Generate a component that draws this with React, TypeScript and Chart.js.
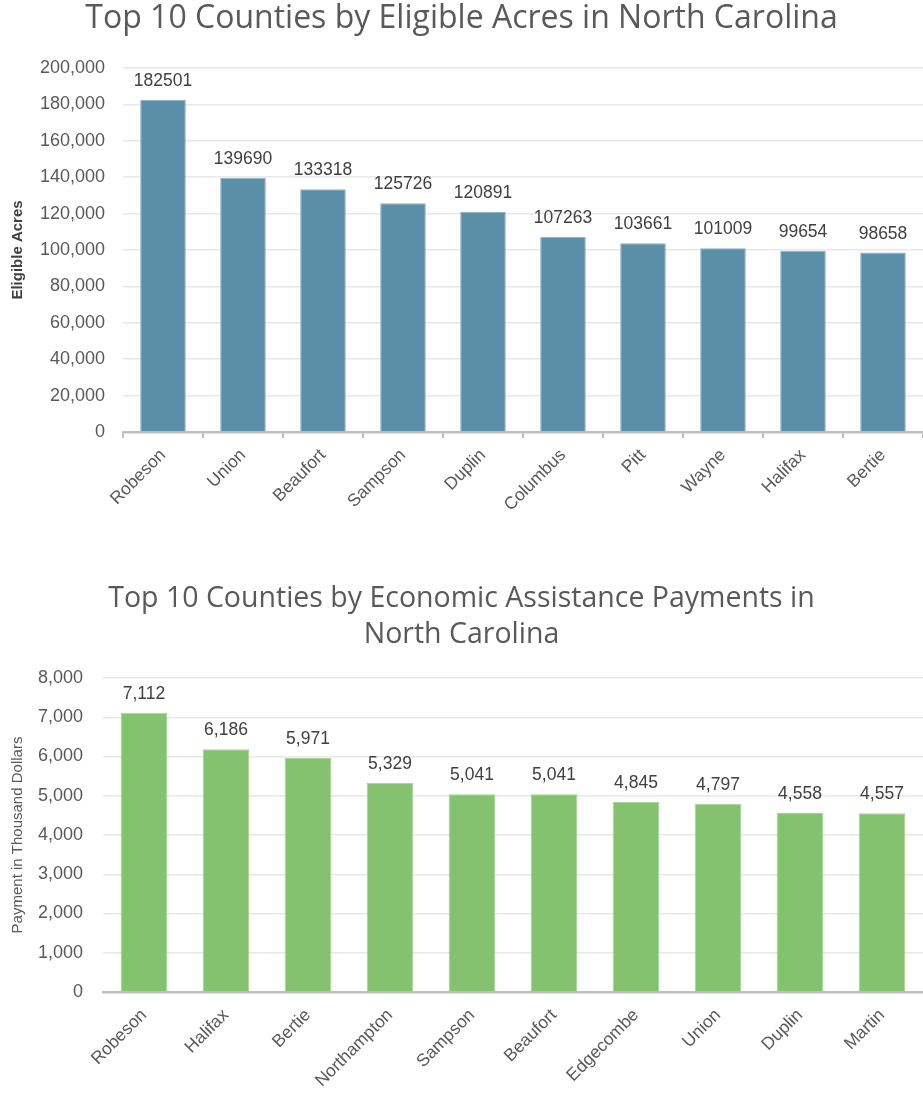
import React, { useEffect, useRef } from "react";
import { Chart, registerables } from "chart.js";

Chart.register(...registerables);

const acresCounties = ["Robeson", "Union", "Beaufort", "Sampson", "Duplin", "Columbus", "Pitt", "Wayne", "Halifax", "Bertie"];
const acresValues = [182501, 139690, 133318, 125726, 120891, 107263, 103661, 101009, 99654, 98658];

const paymentCounties = ["Robeson", "Halifax", "Bertie", "Northampton", "Sampson", "Beaufort", "Edgecombe", "Union", "Duplin", "Martin"];
const paymentValues = [7112, 6186, 5971, 5329, 5041, 5041, 4845, 4797, 4558, 4557];

const TEXT = "#595959";
const TICK_FONT = "'Liberation Sans', Arial, sans-serif";
const TITLE_FONT = "'Open Sans', 'Noto Sans', sans-serif";

const makeLabelPlugin = (useCommas: boolean) => ({
  id: "valueLabels",
  afterDatasetsDraw(chart: any) {
    const ctx = chart.ctx;
    const meta = chart.getDatasetMeta(0);
    const data = chart.data.datasets[0].data as number[];
    ctx.save();
    ctx.font = `17.5px ${TICK_FONT}`;
    ctx.fillStyle = "#404040";
    ctx.textAlign = "center";
    ctx.textBaseline = "bottom";
    meta.data.forEach((bar: any, i: number) => {
      const v = data[i];
      const txt = useCommas ? v.toLocaleString("en-US") : String(v);
      ctx.fillText(txt, bar.x, bar.y - 10);
    });
    ctx.restore();
  },
});

function BarChart(props: {
  labels: string[];
  values: number[];
  title: string | string[];
  titleSize: number;
  yTitle: string;
  yTitleBold: boolean;
  max: number;
  step: number;
  color: string;
  border: string;
  commas: boolean;
  height: number;
  yWidth: number;
  xHeight: number;
  titlePadTop: number;
  titlePadBottom: number;
  xTicks: boolean;
  yTickPad: number;
}) {
  const ref = useRef<HTMLCanvasElement | null>(null);
  useEffect(() => {
    if (!ref.current) return;
    const chart = new Chart(ref.current, {
      type: "bar",
      data: {
        labels: props.labels,
        datasets: [
          {
            data: props.values,
            backgroundColor: props.color,
            borderColor: props.border,
            borderWidth: 1,
            barPercentage: 0.57,
            categoryPercentage: 1,
          },
        ],
      },
      options: {
        animation: false,
        responsive: false,
        maintainAspectRatio: false,
        layout: { padding: { left: 0, right: 0, top: 0, bottom: 0 } },
        plugins: {
          legend: { display: false },
          tooltip: { enabled: false },
          title: {
            display: true,
            text: props.title,
            color: TEXT,
            font: { family: TITLE_FONT, size: props.titleSize, weight: "normal" as any, lineHeight: 36 / props.titleSize },
            padding: { top: props.titlePadTop, bottom: props.titlePadBottom },
          },
        },
        scales: {
          x: {
            border: { display: true, color: "#bfbfbf", width: 2.5 },
            grid: {
              display: props.xTicks,
              drawOnChartArea: false,
              drawTicks: props.xTicks,
              tickLength: 6,
              color: "#bfbfbf",
              lineWidth: 2,
              offset: true,
            },
            ticks: {
              color: TEXT,
              font: { family: TICK_FONT, size: 17.5 },
              maxRotation: 45,
              minRotation: 45,
              padding: props.xTicks ? 7 : 13,
              autoSkip: false,
            },
            afterFit: (s: any) => {
              s.height = props.xHeight;
            },
          },
          y: {
            min: 0,
            max: props.max,
            border: { display: false },
            grid: { color: "#e8e8e8", lineWidth: 1.5, drawTicks: false },
            ticks: {
              stepSize: props.step,
              color: TEXT,
              font: { family: TICK_FONT, size: 18 },
              padding: props.yTickPad,
              callback: (v: any) => Number(v).toLocaleString("en-US"),
            },
            title: {
              display: true,
              text: props.yTitle,
              color: props.yTitleBold ? "#404040" : TEXT,
              font: { family: TICK_FONT, size: 15, weight: props.yTitleBold ? "bold" : ("normal" as any) },
              padding: { top: 9, bottom: 4 },
            },
            afterFit: (s: any) => {
              s.width = props.yWidth;
            },
          },
        },
      },
      plugins: [makeLabelPlugin(props.commas)],
    });
    return () => chart.destroy();
  }, []);
  return (
    <div style={{ position: "relative", width: 923, height: props.height }}>
      <canvas ref={ref} width={923} height={props.height} style={{ display: "block" }} />
    </div>
  );
}

export default function App() {
  return (
    <div style={{ position: "absolute", left: 0, top: 0, width: 923, height: 1099, background: "#fff" }}>
      <BarChart
        labels={acresCounties}
        values={acresValues}
        title="Top 10 Counties by Eligible Acres in North Carolina"
        titleSize={32}
        yTitle="Eligible Acres"
        yTitleBold={true}
        max={200000}
        step={20000}
        color="#5b8fa8"
        border="#8cb2c4"
        commas={false}
        height={550}
        yWidth={123}
        xHeight={118}
        titlePadTop={1}
        titlePadBottom={31}
        xTicks={true}
        yTickPad={18}
      />
      <BarChart
        labels={paymentCounties}
        values={paymentValues}
        title={["Top 10 Counties by Economic Assistance Payments in", "North Carolina"]}
        titleSize={28.5}
        yTitle="Payment in Thousand Dollars"
        yTitleBold={false}
        max={8000}
        step={1000}
        color="#84c270"
        border="#a6d496"
        commas={true}
        height={549}
        yWidth={103}
        xHeight={107}
        titlePadTop={31}
        titlePadBottom={25}
        xTicks={false}
        yTickPad={20}
      />
    </div>
  );
}
